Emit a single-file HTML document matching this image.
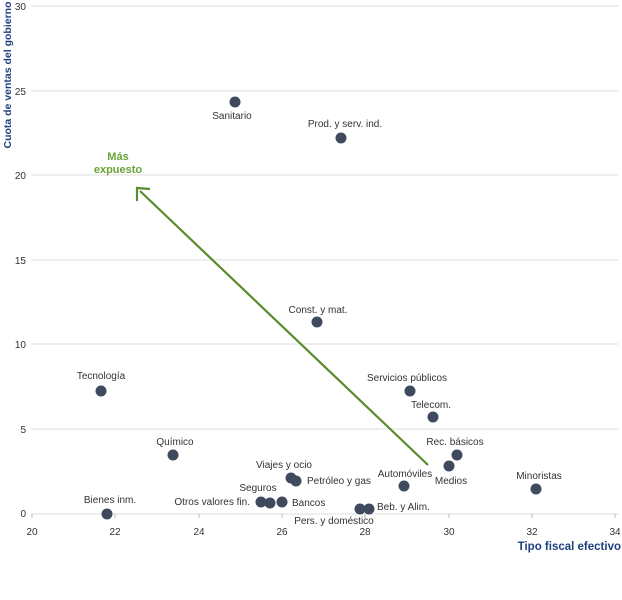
<!DOCTYPE html>
<html><head><meta charset="utf-8"><style>
body{margin:0;background:#fff}
svg{display:block;font-family:"Liberation Sans",sans-serif}
.t{font-size:10px;fill:#333}
.l{font-size:10px;fill:#333}
</style></head><body>
<svg width="622" height="600" viewBox="0 0 622 600">
<g stroke="#dcdcdc" stroke-width="1">
<line x1="31" y1="6" x2="618" y2="6"/>
<line x1="31" y1="91" x2="618" y2="91"/>
<line x1="31" y1="175" x2="618" y2="175"/>
<line x1="31" y1="260" x2="618" y2="260"/>
<line x1="31" y1="344" x2="618" y2="344"/>
<line x1="31" y1="429" x2="618" y2="429"/>
<line x1="31" y1="514" x2="618" y2="514"/>
</g>
<g stroke="#bbb"><line x1="32" y1="514" x2="32" y2="518"/><line x1="115" y1="514" x2="115" y2="518"/><line x1="199" y1="514" x2="199" y2="518"/><line x1="282" y1="514" x2="282" y2="518"/><line x1="365" y1="514" x2="365" y2="518"/><line x1="449" y1="514" x2="449" y2="518"/><line x1="532" y1="514" x2="532" y2="518"/><line x1="615" y1="514" x2="615" y2="518"/></g>
<g class="t" text-anchor="end">
<text x="26" y="10">30</text><text x="26" y="95">25</text><text x="26" y="179">20</text><text x="26" y="264">15</text><text x="26" y="348">10</text><text x="26" y="433">5</text><text x="26" y="517">0</text>
</g>
<g class="t" text-anchor="middle">
<text x="32" y="535">20</text><text x="115" y="535">22</text><text x="199" y="535">24</text><text x="282" y="535">26</text><text x="365" y="535">28</text><text x="449" y="535">30</text><text x="532" y="535">32</text><text x="615" y="535">34</text>
</g>
<text x="621" y="550" text-anchor="end" font-size="11.5" font-weight="bold" fill="#1f3f7f">Tipo fiscal efectivo</text>
<text transform="translate(11,75) rotate(-90)" text-anchor="middle" font-size="10.5" font-weight="bold" fill="#1f3f7f">Cuota de ventas del gobierno</text>
<g stroke="#5a8a2c" stroke-width="2.2" fill="none"><line x1="428" y1="465" x2="140" y2="191"/><polyline points="137,201 137,188 150,189"/></g>
<text x="118" y="160" text-anchor="middle" font-size="11" font-weight="bold" fill="#6aa336">Más</text>
<text x="118" y="173" text-anchor="middle" font-size="11" font-weight="bold" fill="#6aa336">expuesto</text>
<g fill="#3f4a5e">
<circle cx="235" cy="102" r="5.5"/><circle cx="341" cy="138" r="5.5"/><circle cx="317" cy="322" r="5.5"/><circle cx="101" cy="391" r="5.5"/><circle cx="410" cy="391" r="5.5"/><circle cx="433" cy="417" r="5.5"/><circle cx="173" cy="455" r="5.5"/><circle cx="457" cy="455" r="5.5"/><circle cx="449" cy="466" r="5.5"/><circle cx="291" cy="478" r="5.5"/><circle cx="296" cy="481" r="5.5"/><circle cx="404" cy="486" r="5.5"/><circle cx="536" cy="489" r="5.5"/><circle cx="261" cy="502" r="5.5"/><circle cx="270" cy="503" r="5.5"/><circle cx="282" cy="502" r="5.5"/><circle cx="107" cy="514" r="5.5"/><circle cx="360" cy="509" r="5.5"/><circle cx="369" cy="509" r="5.5"/>
</g>
<g class="l" text-anchor="middle">
<text x="232" y="119">Sanitario</text>
<text x="345" y="127">Prod. y serv. ind.</text>
<text x="318" y="313">Const. y mat.</text>
<text x="101" y="379">Tecnología</text>
<text x="407" y="381">Servicios públicos</text>
<text x="431" y="408">Telecom.</text>
<text x="175" y="445">Químico</text>
<text x="455" y="445">Rec. básicos</text>
<text x="451" y="484">Medios</text>
<text x="284" y="468">Viajes y ocio</text>
<text x="405" y="477">Automóviles</text>
<text x="539" y="479">Minoristas</text>
<text x="258" y="491">Seguros</text>
<text x="110" y="503">Bienes inm.</text>
<text x="334" y="524">Pers. y doméstico</text>
</g>
<g class="l">
<text x="307" y="484">Petróleo y gas</text>
<text x="292" y="506">Bancos</text>
<text x="377" y="510">Beb. y Alim.</text>
<text x="250" y="505" text-anchor="end">Otros valores fin.</text>
</g>
</svg>
</body></html>
